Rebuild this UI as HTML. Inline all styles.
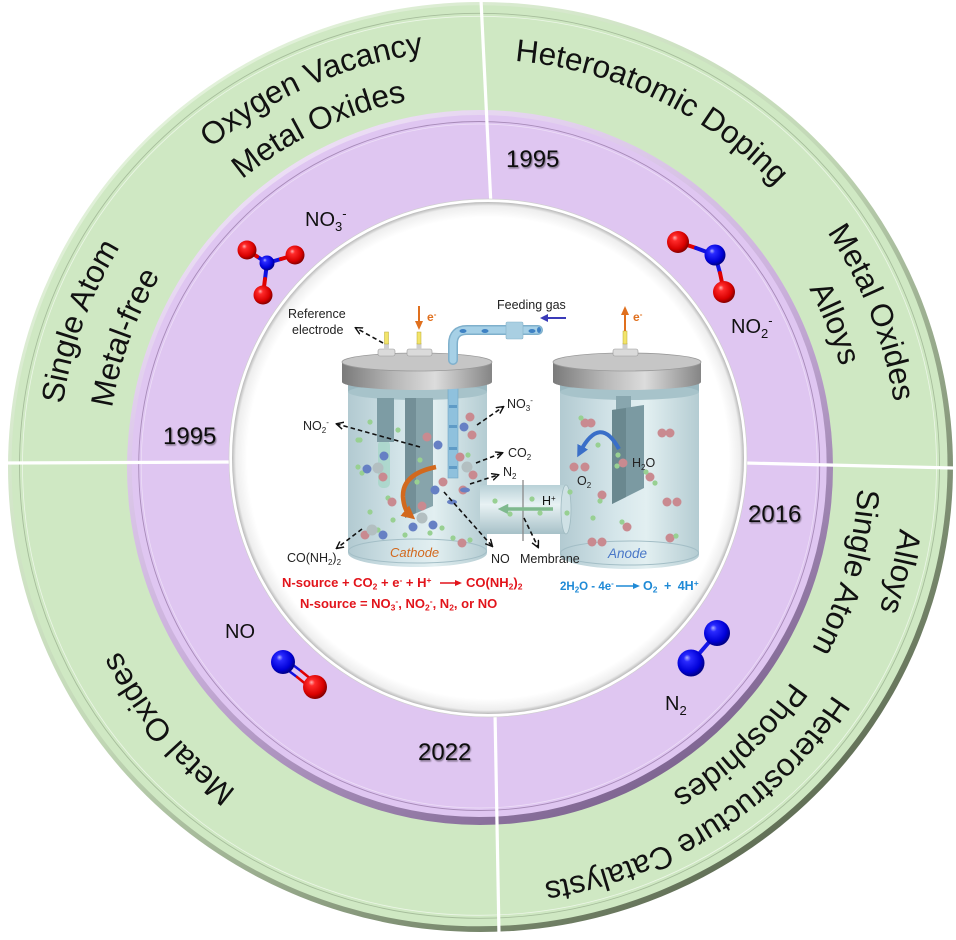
<!DOCTYPE html>
<html><head><meta charset="utf-8">
<style>
html,body{margin:0;padding:0;background:#fff;width:956px;height:940px;overflow:hidden}
svg{display:block}
text{font-family:"Liberation Sans",Arial,sans-serif}
</style></head>
<body>
<svg width="956" height="940" viewBox="0 0 956 940" xmlns="http://www.w3.org/2000/svg">
<defs>
<linearGradient id="gEdge" x1="0.15" y1="0.1" x2="0.85" y2="0.95">
<stop offset="0" stop-color="#e4f3dc"/><stop offset="0.45" stop-color="#c2d8b6"/><stop offset="1" stop-color="#56634b"/>
</linearGradient>
<linearGradient id="pEdge" x1="0.2" y1="0" x2="0.8" y2="1">
<stop offset="0" stop-color="#f1e5f9"/><stop offset="0.5" stop-color="#cbb1dc"/><stop offset="1" stop-color="#735a86"/>
</linearGradient>
<radialGradient id="inner" cx="0.5" cy="0.5" r="0.5">
<stop offset="0.94" stop-color="#ffffff"/><stop offset="0.985" stop-color="#eeeeee"/><stop offset="1" stop-color="#b9b9b9"/>
</radialGradient>
<radialGradient id="red" cx="0.42" cy="0.4" r="0.6" fx="0.35" fy="0.3">
<stop offset="0" stop-color="#ffb0b0"/><stop offset="0.22" stop-color="#ff2a2a"/><stop offset="0.75" stop-color="#d80000"/><stop offset="1" stop-color="#850000"/>
</radialGradient>
<radialGradient id="blue" cx="0.42" cy="0.4" r="0.6" fx="0.35" fy="0.3">
<stop offset="0" stop-color="#b0b0ff"/><stop offset="0.22" stop-color="#2a2aff"/><stop offset="0.75" stop-color="#0000d8"/><stop offset="1" stop-color="#000085"/>
</radialGradient>
<linearGradient id="lid" x1="0" y1="0" x2="1" y2="0">
<stop offset="0" stop-color="#7a7a7a"/><stop offset="0.35" stop-color="#b8b8b8"/><stop offset="0.62" stop-color="#dcdcdc"/><stop offset="1" stop-color="#858585"/>
</linearGradient>
<linearGradient id="body" x1="0" y1="0" x2="1" y2="0">
<stop offset="0" stop-color="#b2cad1"/><stop offset="0.4" stop-color="#d5e6ea"/><stop offset="0.62" stop-color="#e2eff1"/><stop offset="1" stop-color="#b4ccd2"/>
</linearGradient>
<linearGradient id="tube" x1="0" y1="0" x2="0" y2="1">
<stop offset="0" stop-color="#b9d1d7"/><stop offset="0.4" stop-color="#e8f2f4"/><stop offset="1" stop-color="#a7c1c8"/>
</linearGradient>
<filter id="sh" x="-20%" y="-20%" width="140%" height="150%">
<feDropShadow dx="1" dy="1.5" stdDeviation="0.8" flood-color="#000" flood-opacity="0.45"/>
</filter>
<marker id="ah" viewBox="0 0 10 10" refX="8" refY="5" markerWidth="5" markerHeight="5" orient="auto">
<path d="M0,0.5 L9,5 L0,9.5" fill="none" stroke="#111" stroke-width="1.8"/>
</marker>
<marker id="ahO" viewBox="0 0 10 10" refX="5" refY="5" markerWidth="3" markerHeight="3" orient="auto">
<path d="M0,0 L10,5 L0,10 Z" fill="#d2691e"/>
</marker>
<marker id="ahB" viewBox="0 0 10 10" refX="5" refY="5" markerWidth="3" markerHeight="3" orient="auto">
<path d="M0,0 L10,5 L0,10 Z" fill="#3a6fc8"/>
</marker>
<marker id="ahG" viewBox="0 0 10 10" refX="5" refY="5" markerWidth="3" markerHeight="3" orient="auto">
<path d="M0,0 L10,5 L0,10 Z" fill="#7fb98e"/>
</marker>
<path id="pa" d="M85.7,602.8 A417,417 0 0 1 844.7,264.8" fill="none"/>
<path id="pb" d="M130.6,597.6 A373,373 0 0 1 801.4,277.7" fill="none"/>
<path id="pc" d="M129.2,258.7 A408,408 0 0 1 861.6,611.2" fill="none"/>
<path id="pd" d="M361,65.3 A419,419 0 0 1 667,842" fill="none"/>
<path id="pe" d="M370.6,109.3 A374,374 0 0 1 649.8,800.2" fill="none"/>
<path id="pf" d="M618.1,66.1 A424,424 0 0 1 413.7,885.8" fill="none"/>
<path id="pg" d="M615.5,114.1 A378,378 0 0 1 407.9,838.1" fill="none"/>
<path id="ph" d="M850.8,269.8 A420,420 0 0 1 149,725.6" fill="none"/>
<path id="pi" d="M777.9,234.3 A378,378 0 0 1 227.1,747.9" fill="none"/>
<path id="pj" d="M704.3,787.3 A390,390 0 0 1 203.5,190.5" fill="none"/>
<path id="pk" d="M301.7,849.5 A422,422 0 0 1 589.2,59.4" fill="none"/>
<path id="pl" d="M322.4,805 A373,373 0 0 1 576.5,106.7" fill="none"/>
</defs>

<!-- green ring -->
<ellipse cx="480.5" cy="467" rx="472.5" ry="465" fill="url(#gEdge)"/>
<ellipse cx="479.5" cy="465.8" rx="468" ry="460.5" fill="#cfe8c3"/>
<ellipse cx="479.5" cy="465.8" rx="460" ry="452.5" fill="none" stroke="#a6bd9b" stroke-width="0.9"/>
<ellipse cx="479.5" cy="465.8" rx="457" ry="449.5" fill="none" stroke="#ffffff" stroke-width="0.8" opacity="0.6"/>

<!-- purple ring -->
<ellipse cx="480" cy="467.5" rx="353" ry="357.5" fill="url(#pEdge)"/>
<ellipse cx="479.2" cy="466" rx="347.5" ry="351" fill="#dfc6f1"/>
<ellipse cx="479.2" cy="466" rx="340.5" ry="344.5" fill="none" stroke="#a78bb8" stroke-width="0.9"/>
<ellipse cx="479.2" cy="466" rx="338" ry="342" fill="none" stroke="#f4ebfa" stroke-width="0.7" opacity="0.7"/>

<!-- divider lines -->
<g stroke="#ffffff" stroke-width="3.2">
<line x1="481" y1="0" x2="491" y2="206"/>
<line x1="8" y1="463" x2="233" y2="462"/>
<line x1="745" y1="463" x2="953" y2="468"/>
<line x1="495" y1="712" x2="499" y2="935"/>
</g>

<!-- inner white circle -->
<circle cx="488" cy="458" r="259" fill="#ffffff" stroke="#cfcfcf" stroke-width="0.7"/>
<circle cx="488" cy="458" r="256" fill="url(#inner)"/>

<!-- ring texts -->
<g font-size="31.5" fill="#111">
<text><textPath href="#pa" startOffset="50%" text-anchor="middle">Oxygen Vacancy</textPath></text>
<text><textPath href="#pb" startOffset="50%" text-anchor="middle">Metal Oxides</textPath></text>
<text><textPath href="#pc" startOffset="50%" text-anchor="middle">Heteroatomic Doping</textPath></text>
<text><textPath href="#pd" startOffset="50%" text-anchor="middle">Metal Oxides</textPath></text>
<text><textPath href="#pe" startOffset="50%" text-anchor="middle">Alloys</textPath></text>
<text><textPath href="#pf" startOffset="50%" text-anchor="middle">Alloys</textPath></text>
<text><textPath href="#pg" startOffset="50%" text-anchor="middle">Single Atom</textPath></text>
<text><textPath href="#ph" startOffset="50%" text-anchor="middle">Heterostructure Catalysts</textPath></text>
<text><textPath href="#pi" startOffset="50%" text-anchor="middle">Phosphides</textPath></text>
<text><textPath href="#pj" startOffset="50%" text-anchor="middle">Metal Oxides</textPath></text>
<text><textPath href="#pk" startOffset="50%" text-anchor="middle">Single Atom</textPath></text>
<text><textPath href="#pl" startOffset="50%" text-anchor="middle">Metal-free</textPath></text>
</g>

<!-- years -->
<g font-size="24" fill="#111" filter="url(#sh)">
<text x="163" y="444">1995</text>
<text x="506" y="167">1995</text>
<text x="748" y="522">2016</text>
<text x="418" y="760">2022</text>
</g>

<!-- molecule labels -->
<g font-size="20" fill="#111">
<text x="305" y="226">NO<tspan font-size="13" dy="5">3</tspan><tspan font-size="13" dy="-13">-</tspan></text>
<text x="731" y="333">NO<tspan font-size="13" dy="5">2</tspan><tspan font-size="13" dy="-13">-</tspan></text>
<text x="225" y="638">NO</text>
<text x="665" y="710">N<tspan font-size="13" dy="5">2</tspan></text>
</g>

<!-- molecules -->
<g stroke-width="4" stroke-linecap="round">
<line x1="267" y1="263" x2="257" y2="256.5" stroke="#1010e0"/><line x1="257" y1="256.5" x2="247" y2="250" stroke="#e00000"/>
<line x1="267" y1="263" x2="281" y2="259" stroke="#1010e0"/><line x1="281" y1="259" x2="295" y2="255" stroke="#e00000"/>
<line x1="267" y1="263" x2="265" y2="279" stroke="#1010e0"/><line x1="265" y1="279" x2="263" y2="295" stroke="#e00000"/>
<line x1="678" y1="242" x2="696" y2="248" stroke="#e00000"/><line x1="696" y1="248" x2="715" y2="255" stroke="#1010e0"/>
<line x1="715" y1="255" x2="720" y2="273" stroke="#1010e0"/><line x1="720" y1="273" x2="724" y2="292" stroke="#e00000"/>
<line x1="285" y1="659" x2="301" y2="671" stroke="#1010e0" stroke-width="2.5"/><line x1="301" y1="671" x2="317" y2="684" stroke="#e00000" stroke-width="2.5"/>
<line x1="281" y1="665" x2="297" y2="677" stroke="#1010e0" stroke-width="2.5"/><line x1="297" y1="677" x2="313" y2="690" stroke="#e00000" stroke-width="2.5"/>
<line x1="717" y1="633" x2="691" y2="663" stroke="#1515e8"/>
</g>
<circle cx="247" cy="250" r="9.5" fill="url(#red)"/>
<circle cx="295" cy="255" r="9.5" fill="url(#red)"/>
<circle cx="263" cy="295" r="9.5" fill="url(#red)"/>
<circle cx="267" cy="263" r="7.5" fill="url(#blue)"/>
<circle cx="678" cy="242" r="11" fill="url(#red)"/>
<circle cx="715" cy="255" r="10.5" fill="url(#blue)"/>
<circle cx="724" cy="292" r="11" fill="url(#red)"/>
<circle cx="283" cy="662" r="12" fill="url(#blue)"/>
<circle cx="315" cy="687" r="12" fill="url(#red)"/>
<circle cx="717" cy="633" r="13" fill="url(#blue)"/>
<circle cx="691" cy="663" r="13.5" fill="url(#blue)"/>

<!-- ============ CENTER DIAGRAM ============ -->
<rect x="348" y="380" width="139" height="173" fill="url(#body)"/>
<ellipse cx="417.5" cy="553" rx="69.5" ry="14" fill="url(#body)"/>
<ellipse cx="417.5" cy="551" rx="69" ry="12" fill="none" stroke="#a3bec6" stroke-width="1"/>
<rect x="348" y="380" width="139" height="12" fill="#9ab7bf"/>
<ellipse cx="417.5" cy="392" rx="69.5" ry="8" fill="#a7c3ca"/>
<rect x="560" y="380" width="139" height="175" fill="url(#body)"/>
<ellipse cx="629.5" cy="555" rx="69.5" ry="14" fill="url(#body)"/>
<ellipse cx="629.5" cy="553" rx="69" ry="12" fill="none" stroke="#a3bec6" stroke-width="1"/>
<rect x="560" y="380" width="139" height="12" fill="#9ab7bf"/>
<ellipse cx="629.5" cy="392" rx="69.5" ry="8" fill="#a7c3ca"/>

<rect x="480" y="485" width="86" height="49" fill="url(#tube)"/>
<ellipse cx="566" cy="509.5" rx="5" ry="24.5" fill="#cfe1e5" stroke="#9fbac1" stroke-width="0.8"/>
<line x1="523" y1="480" x2="523" y2="541" stroke="#8a8a8a" stroke-width="1.3"/>
<line x1="553" y1="509" x2="503" y2="509" stroke="#7fb98e" stroke-width="3.5" marker-end="url(#ahG)"/>
<text x="542" y="505" font-size="12.5" fill="#111">H<tspan font-size="8" dy="-4">+</tspan></text>

<rect x="448" y="388" width="10" height="90" fill="#8fc1dd" stroke="#6fa6c4" stroke-width="0.6"/>
<g fill="#5f9bc6"><rect x="449" y="405" width="8" height="3"/><rect x="449" y="425" width="8" height="3"/><rect x="449" y="447" width="8" height="3"/><rect x="449" y="466" width="8" height="3"/></g>
<rect x="378" y="440" width="12" height="48" rx="5" fill="#a6d6c8" opacity="0.8"/>
<rect x="377" y="398" width="17" height="44" fill="#7d9ca4"/>
<polygon points="405,398 433,398 433,506 405,518" fill="#87a4ab"/>
<polygon points="405,398 416,398 416,513 405,518" fill="#738f97"/>
<rect x="616" y="396" width="15" height="22" fill="#88a6ae"/>
<polygon points="612,410 644,405 644,488 612,504" fill="#7b9aa2"/>
<polygon points="612,410 626,408 626,497 612,504" fill="#6a888f"/>

<g fill="#98d092">
<circle cx="370" cy="422" r="2.6"/><circle cx="360" cy="440" r="2.6"/><circle cx="398" cy="430" r="2.6"/><circle cx="420" cy="460" r="2.6"/>
<circle cx="358" cy="467" r="2.6"/><circle cx="362" cy="473" r="2.6"/><circle cx="388" cy="498" r="2.6"/><circle cx="370" cy="512" r="2.6"/>
<circle cx="393" cy="520" r="2.6"/><circle cx="405" cy="535" r="2.6"/><circle cx="442" cy="528" r="2.6"/><circle cx="453" cy="538" r="2.6"/>
<circle cx="417" cy="482" r="2.6"/><circle cx="358" cy="440" r="2.6"/><circle cx="386" cy="455" r="2.6"/><circle cx="468" cy="455" r="2.6"/>
<circle cx="430" cy="533" r="2.6"/><circle cx="470" cy="540" r="2.6"/><circle cx="378" cy="530" r="2.6"/>
</g>
<g fill="#c98a90">
<circle cx="427" cy="437" r="4.5"/><circle cx="470" cy="417" r="4.5"/><circle cx="472" cy="435" r="4.5"/><circle cx="460" cy="457" r="4.5"/>
<circle cx="473" cy="475" r="4.5"/><circle cx="383" cy="477" r="4.5"/><circle cx="392" cy="502" r="4.5"/><circle cx="443" cy="482" r="4.5"/>
<circle cx="422" cy="506" r="4.5"/><circle cx="462" cy="543" r="4.5"/><circle cx="365" cy="535" r="4.5"/><circle cx="463" cy="490" r="4.5"/>
</g>
<g fill="#6680c4">
<circle cx="438" cy="445" r="4.5"/><circle cx="464" cy="427" r="4.5"/><circle cx="384" cy="456" r="4.5"/><circle cx="367" cy="469" r="4.5"/>
<circle cx="435" cy="490" r="4.5"/><circle cx="413" cy="527" r="4.5"/><circle cx="433" cy="525" r="4.5"/><circle cx="383" cy="535" r="4.5"/>
<ellipse cx="452" cy="502" rx="5" ry="2.5"/><ellipse cx="465" cy="490" rx="5" ry="2.5"/>
</g>
<g fill="#b3bfc1">
<circle cx="378" cy="468" r="5.5"/><circle cx="467" cy="467" r="5.5"/><circle cx="422" cy="518" r="5.5"/><circle cx="372" cy="530" r="5.5"/>
</g>
<g fill="#c98a90">
<circle cx="585" cy="423" r="4.5"/><circle cx="591" cy="423" r="4.5"/><circle cx="662" cy="433" r="4.5"/><circle cx="670" cy="433" r="4.5"/>
<circle cx="574" cy="467" r="4.5"/><circle cx="585" cy="467" r="4.5"/><circle cx="667" cy="502" r="4.5"/><circle cx="677" cy="502" r="4.5"/>
<circle cx="592" cy="542" r="4.5"/><circle cx="602" cy="542" r="4.5"/><circle cx="623" cy="463" r="4.5"/><circle cx="602" cy="495" r="4.5"/>
<circle cx="627" cy="527" r="4.5"/><circle cx="650" cy="477" r="4.5"/><circle cx="670" cy="538" r="4.5"/>
</g>
<g fill="#98d092">
<circle cx="598" cy="445" r="2.6"/><circle cx="570" cy="492" r="2.6"/><circle cx="567" cy="513" r="2.6"/><circle cx="593" cy="518" r="2.6"/>
<circle cx="618" cy="455" r="2.6"/><circle cx="655" cy="483" r="2.6"/><circle cx="581" cy="418" r="2.6"/><circle cx="617" cy="466" r="2.6"/>
<circle cx="600" cy="501" r="2.6"/><circle cx="622" cy="522" r="2.6"/><circle cx="646" cy="472" r="2.6"/><circle cx="676" cy="536" r="2.6"/>
<circle cx="495" cy="501" r="2.6"/><circle cx="532" cy="499" r="2.6"/><circle cx="510" cy="514" r="2.6"/><circle cx="540" cy="513" r="2.6"/>
</g>

<path d="M436,467 Q402,474 403,497 Q404,510 410,515" fill="none" stroke="#d2691e" stroke-width="4.5" marker-end="url(#ahO)"/>
<path d="M619,449 Q600,414 580,452" fill="none" stroke="#3a6fc8" stroke-width="4" marker-end="url(#ahB)"/>

<rect x="342" y="362" width="150" height="20" fill="url(#lid)"/>
<ellipse cx="417" cy="382" rx="75" ry="8" fill="url(#lid)"/>
<ellipse cx="417" cy="362" rx="75" ry="9" fill="#c6c6c6" stroke="#9a9a9a" stroke-width="0.8"/>
<rect x="553" y="362" width="148" height="20" fill="url(#lid)"/>
<ellipse cx="627" cy="382" rx="74" ry="8" fill="url(#lid)"/>
<ellipse cx="627" cy="362" rx="74" ry="9" fill="#c6c6c6" stroke="#9a9a9a" stroke-width="0.8"/>

<rect x="378" y="349" width="17" height="7" rx="2" fill="#dadada" stroke="#999" stroke-width="0.6"/>
<rect x="384" y="343" width="5" height="7" fill="#cfcfcf"/>
<rect x="384.5" y="332" width="4" height="12" fill="#f2e46a" stroke="#b9a935" stroke-width="0.5"/>
<rect x="407" y="349" width="25" height="7" rx="2" fill="#dadada" stroke="#999" stroke-width="0.6"/>
<rect x="416.5" y="343" width="5" height="7" fill="#cfcfcf"/>
<rect x="417" y="332" width="4" height="12" fill="#f2e46a" stroke="#b9a935" stroke-width="0.5"/>
<rect x="613" y="349" width="25" height="7" rx="2" fill="#dadada" stroke="#999" stroke-width="0.6"/>
<rect x="622.5" y="343" width="5" height="7" fill="#cfcfcf"/>
<rect x="623" y="331" width="4" height="13" fill="#f2e46a" stroke="#b9a935" stroke-width="0.5"/>

<path d="M453,360 L453,344 Q453,330 467,330 L538,330" fill="none" stroke="#7fb0cc" stroke-width="10" stroke-linecap="round"/>
<path d="M453,360 L453,344 Q453,330 467,330 L538,330" fill="none" stroke="#a6d0e6" stroke-width="7" stroke-linecap="round"/>
<rect x="506" y="322" width="17" height="17" rx="1.5" fill="#a9cfe2" stroke="#84b2c9" stroke-width="0.6"/>
<g fill="#3f82c4"><ellipse cx="463" cy="331" rx="3.5" ry="2"/><ellipse cx="485" cy="331" rx="3.5" ry="2"/><ellipse cx="532" cy="331" rx="3.5" ry="2"/><ellipse cx="539" cy="330" rx="2" ry="3"/></g>
<line x1="566" y1="318" x2="545" y2="318" stroke="#3a3ab8" stroke-width="2"/>
<path d="M548,314 L540,318 L548,322 Z" fill="#3a3ab8"/>
<text x="497" y="309" font-size="12.5" fill="#222">Feeding gas</text>

<line x1="419" y1="306" x2="419" y2="323" stroke="#e0701e" stroke-width="2"/>
<path d="M415,321 L419,330 L423,321 Z" fill="#e0701e"/>
<text x="427" y="321" font-size="12" font-weight="bold" fill="#e0701e">e<tspan font-size="8" dy="-4">-</tspan></text>
<line x1="625" y1="331" x2="625" y2="313" stroke="#e0701e" stroke-width="2"/>
<path d="M621,315 L625,306 L629,315 Z" fill="#e0701e"/>
<text x="633" y="321" font-size="12" font-weight="bold" fill="#e0701e">e<tspan font-size="8" dy="-4">-</tspan></text>

<g stroke="#111" stroke-width="1.6" stroke-dasharray="4.5 3" fill="none">
<line x1="383" y1="343" x2="356" y2="328" marker-end="url(#ah)"/>
<line x1="420" y1="447" x2="337" y2="424" marker-end="url(#ah)"/>
<line x1="477" y1="425" x2="503" y2="407" marker-end="url(#ah)"/>
<line x1="476" y1="463" x2="502" y2="453" marker-end="url(#ah)"/>
<line x1="470" y1="484" x2="498" y2="475" marker-end="url(#ah)"/>
<line x1="444" y1="492" x2="492" y2="546" marker-end="url(#ah)"/>
<line x1="524" y1="518" x2="538" y2="547" marker-end="url(#ah)"/>
<line x1="362" y1="529" x2="337" y2="548" marker-end="url(#ah)"/>
</g>

<g font-size="12.5" fill="#222">
<text x="288" y="318">Reference</text>
<text x="292" y="334">electrode</text>
<text x="303" y="430">NO<tspan font-size="8" dy="3">2</tspan><tspan font-size="8" dy="-8">-</tspan></text>
<text x="507" y="408">NO<tspan font-size="8" dy="3">3</tspan><tspan font-size="8" dy="-8">-</tspan></text>
<text x="508" y="457">CO<tspan font-size="8" dy="3">2</tspan></text>
<text x="503" y="476">N<tspan font-size="8" dy="3">2</tspan></text>
<text x="491" y="563">NO</text>
<text x="520" y="563">Membrane</text>
<text x="287" y="562">CO(NH<tspan font-size="8" dy="3">2</tspan><tspan dy="-3">)</tspan><tspan font-size="8" dy="3">2</tspan></text>
<text x="632" y="467">H<tspan font-size="8" dy="3">2</tspan><tspan dy="-3">O</tspan></text>
<text x="577" y="485">O<tspan font-size="8" dy="3">2</tspan></text>
</g>
<text x="390" y="557" font-size="13" font-style="italic" fill="#d2691e">Cathode</text>
<text x="608" y="558" font-size="13.5" font-style="italic" fill="#4a78c8">Anode</text>

<g font-size="13" font-weight="bold" fill="#e2141b">
<text x="282" y="587">N-source + CO<tspan font-size="8.5" dy="2.5">2</tspan><tspan dy="-2.5"> + e</tspan><tspan font-size="8.5" dy="-4">-</tspan><tspan dy="4"> + H</tspan><tspan font-size="8.5" dy="-4">+</tspan></text>
<text x="466" y="587">CO(NH<tspan font-size="8.5" dy="2.5">2</tspan><tspan dy="-2.5">)</tspan><tspan font-size="8.5" dy="2.5">2</tspan></text>
<text x="300" y="608">N-source = NO<tspan font-size="8.5" dy="2.5">3</tspan><tspan font-size="8.5" dy="-6.5">-</tspan><tspan dy="4">, NO</tspan><tspan font-size="8.5" dy="2.5">2</tspan><tspan font-size="8.5" dy="-6.5">-</tspan><tspan dy="4">, N</tspan><tspan font-size="8.5" dy="2.5">2</tspan><tspan dy="-2.5">, or NO</tspan></text>
</g>
<line x1="440" y1="583" x2="457" y2="583" stroke="#e2141b" stroke-width="1.4"/>
<path d="M455,580 L462,583 L455,586 Z" fill="#e2141b"/>
<g font-weight="bold" fill="#1f8ad6">
<text x="560" y="590" font-size="11.5">2H<tspan font-size="8" dy="2.5">2</tspan><tspan dy="-2.5">O - 4e</tspan><tspan font-size="8" dy="-4">-</tspan></text>
<text x="643" y="590" font-size="12.5" word-spacing="3">O<tspan font-size="8.5" dy="2.5">2</tspan><tspan dy="-2.5"> + 4H</tspan><tspan font-size="8.5" dy="-4">+</tspan></text>
</g>
<line x1="616" y1="586" x2="635" y2="586" stroke="#1f8ad6" stroke-width="1.4"/>
<path d="M633,583 L640,586 L633,589 Z" fill="#1f8ad6"/>
</svg>
</body></html>
